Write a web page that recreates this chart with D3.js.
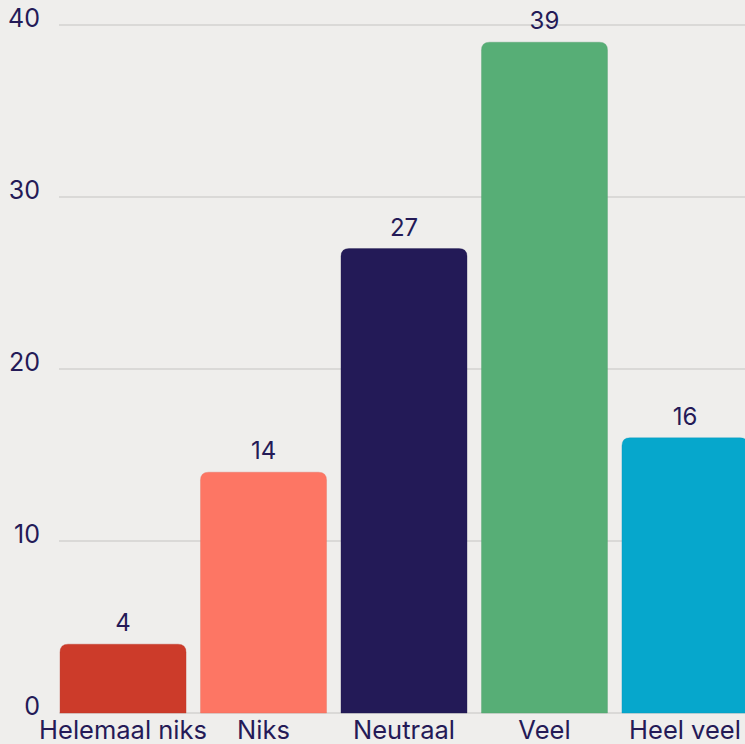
<!DOCTYPE html>
<html>
<head>
<meta charset="utf-8">
<script src="https://cdn.jsdelivr.net/npm/d3@7"></script>
<style>
  html, body { margin: 0; padding: 0; background: #efeeec; overflow: hidden; }
  svg { display: block; }
  text { font-family: Inter, "Noto Sans", sans-serif; font-weight: 400; fill: #241a57; }
</style>
</head>
<body>
<div id="chart"></div>
<script>
var categories = ["Helemaal niks", "Niks", "Neutraal", "Veel", "Heel veel"];
var values = [4, 14, 27, 39, 16];
var colors = ["#cc3b2a", "#fd7664", "#231a57", "#57ae76", "#06a7cc"];
var yTicks = [0, 10, 20, 30, 40];

var width = 745, height = 744;
var margin = { left: 53, right: -10, top: 25, bottom: 31 };
var figw = width - margin.left - margin.right,
    figh = height - margin.top - margin.bottom;

var svg = d3.select("#chart").append("svg")
    .attr("width", width)
    .attr("height", height);

var g = svg.append("g")
    .attr("transform", "translate(" + margin.left + "," + margin.top + ")");

var xScale = d3.scaleBand()
    .domain(categories)
    .range([0, figw])
    .paddingInner(0.103)
    .paddingOuter(0.05);

var yScale = d3.scaleLinear()
    .domain([0, 40])
    .range([figh, 0]);

// gridlines
g.selectAll(".grid")
  .data(yTicks)
  .enter().append("line")
    .attr("class", "grid")
    .attr("x1", 6)
    .attr("x2", figw)
    .attr("y1", function(d) { return yScale(d); })
    .attr("y2", function(d) { return yScale(d); })
    .attr("stroke", "#d3d2d0")
    .attr("stroke-width", 1.5);

// y tick labels
g.selectAll(".ylab")
  .data(yTicks)
  .enter().append("text")
    .attr("class", "ylab")
    .attr("x", -13)
    .attr("y", function(d) { return yScale(d) + 2; })
    .attr("text-anchor", "end")
    .style("font-size", "25px")
    .text(function(d) { return d; });

// rounded-top bar path
function barPath(d, i) {
  var x = xScale(categories[i]), w = xScale.bandwidth();
  var y = yScale(d), y0 = yScale(0), r = 8;
  return "M" + x + "," + y0 +
    "V" + (y + r) +
    "Q" + x + "," + y + " " + (x + r) + "," + y +
    "H" + (x + w - r) +
    "Q" + (x + w) + "," + y + " " + (x + w) + "," + (y + r) +
    "V" + y0 + "Z";
}

g.selectAll(".bar")
  .data(values)
  .enter().append("path")
    .attr("class", "bar")
    .attr("d", barPath)
    .attr("fill", function(d, i) { return colors[i]; })
    .attr("stroke", function(d, i) { return d3.color(colors[i]).darker(0.3); })
    .attr("stroke-opacity", 0.35)
    .attr("stroke-width", 1);

// value labels
g.selectAll(".val")
  .data(values)
  .enter().append("text")
    .attr("class", "val")
    .attr("x", function(d, i) { return xScale(categories[i]) + xScale.bandwidth() / 2; })
    .attr("y", function(d) { return yScale(d) - 13; })
    .attr("text-anchor", "middle")
    .style("font-size", "24px")
    .text(function(d) { return d; });

// x labels
g.selectAll(".xlab")
  .data(categories)
  .enter().append("text")
    .attr("class", "xlab")
    .attr("x", function(d) { return xScale(d) + xScale.bandwidth() / 2; })
    .attr("y", figh + 26)
    .attr("text-anchor", "middle")
    .style("font-size", "25.5px")
    .text(function(d) { return d; });
</script>
</body>
</html>
